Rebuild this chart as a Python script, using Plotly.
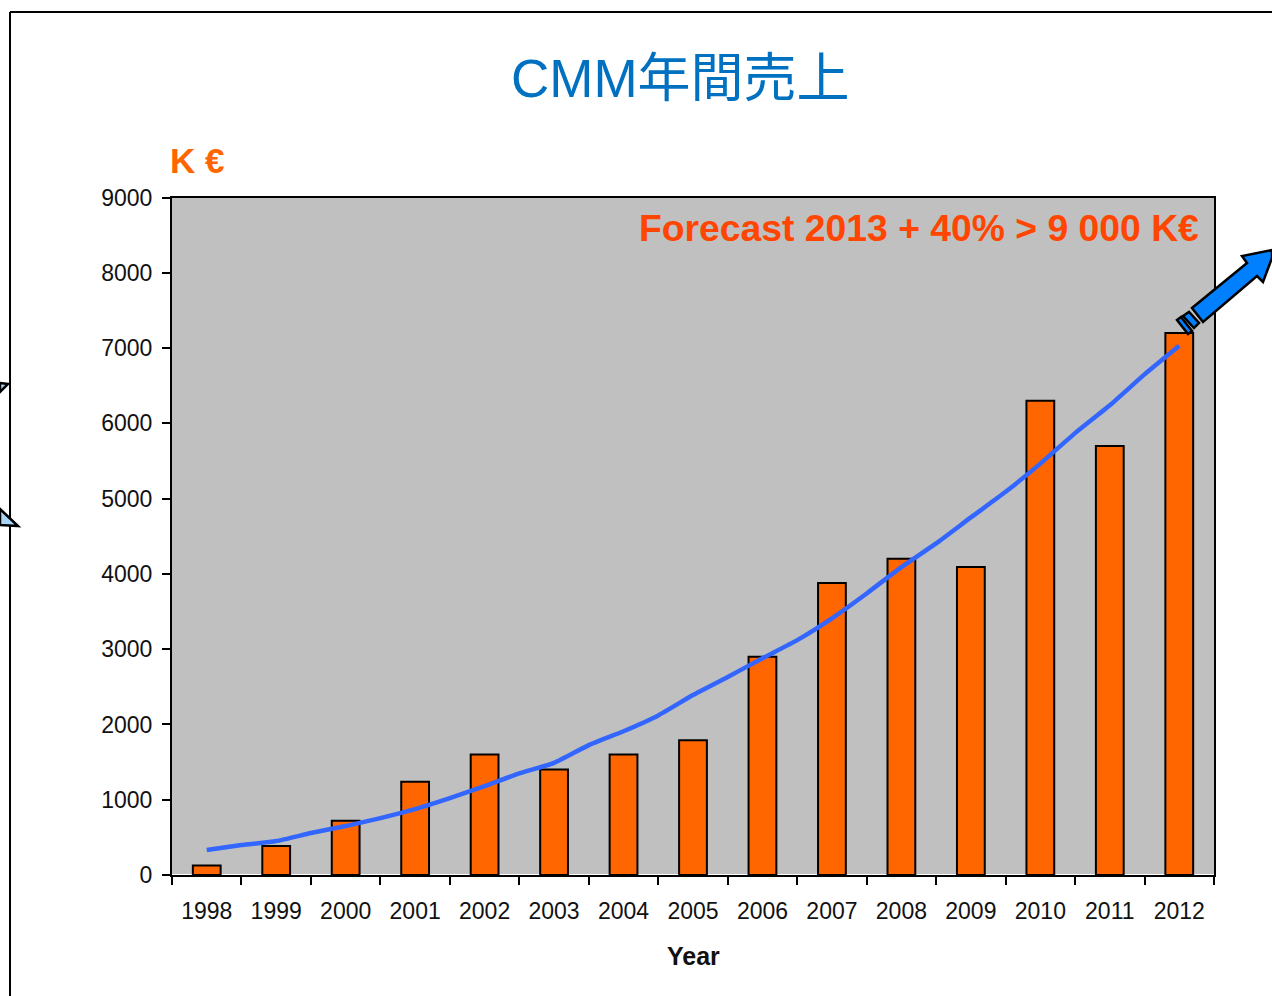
import plotly.graph_objects as go

years = ["1998","1999","2000","2001","2002","2003","2004","2005","2006","2007","2008","2009","2010","2011","2012"]
sales = [125,385,720,1240,1600,1400,1600,1790,2900,3880,4200,4090,6300,5700,7200]
trend_years = [1998,1998.5,1999,1999.5,2000,2000.5,2001,2001.5,2002,2002.5,2003,2003.5,2004,2004.5,2005,
               2005.5,2006,2006.5,2007,2007.5,2008,2008.5,2009,2009.5,2010,2010.5,2011,2011.5,2012]
trend = [332,398,451,557,650,756,875,1020,1180,1350,1490,1725,1910,2120,2390,
         2630,2880,3120,3410,3740,4090,4405,4750,5090,5465,5870,6240,6650,7030]
y_ticks = [0,1000,2000,3000,4000,5000,6000,7000,8000,9000]

W, H = 1272, 996
FONT = "Liberation Sans, Arial, sans-serif"

def px(x): return x / W
def py(y): return 1 - y / H
def poly(pts):
    return "M " + " L ".join(f"{px(x):.5f},{py(y):.5f}" for x, y in pts) + " Z"

fig = go.Figure()
fig.add_bar(x=years, y=sales, width=0.40,
            marker=dict(color="#FF6600", line=dict(color="black", width=2)))
fig.add_scatter(x=trend_years, y=trend, mode="lines", xaxis="x2",
                line=dict(color="#3366FF", width=4.5, shape="spline", smoothing=0.5))

shapes = [
    dict(type="line", xref="paper", yref="paper", x0=px(10), y0=py(12), x1=px(10), y1=0,
         line=dict(color="black", width=2)),
    dict(type="line", xref="paper", yref="paper", x0=px(10), y0=py(12), x1=1, y1=py(12),
         line=dict(color="black", width=2)),
]
for pts, col in [
    ([(1192,308),(1203,322),(1257,276),(1263,282),(1272,258),(1272,250),(1242,256),(1247,263)], "#0080FF"),
    ([(1183,316),(1189,312),(1199,323),(1194,328)], "#0080FF"),
    ([(1177,320),(1181,317),(1192,331),(1188,334)], "#0080FF"),
    ([(0,383),(8,384),(0,392)], "#A8D4F8"),
    ([(0,509),(18,526),(0,525)], "#A8D4F8"),
]:
    shapes.append(dict(type="path", xref="paper", yref="paper", path=poly(pts),
                       fillcolor=col, line=dict(color="black", width=2.5)))

annotations = [
    dict(text='CMM<span style="font-family:\'Noto Sans CJK JP\'">年間売上</span>', x=px(680), y=py(74), xref="paper", yref="paper",
         showarrow=False, xanchor="center", yanchor="middle",
         font=dict(family=FONT, size=53, color="#0070C0")),
    dict(text="<b>K €</b>", x=px(168), y=py(160), xref="paper", yref="paper",
         showarrow=False, xanchor="left", yanchor="middle",
         font=dict(family=FONT, size=35, color="#FF6600")),
    dict(text="<b>Forecast 2013 + 40% > 9 000 K€</b>", x=px(1201), y=py(228), xref="paper", yref="paper",
         showarrow=False, xanchor="right", yanchor="middle",
         font=dict(family=FONT, size=37.3, color="#FF4500")),
    dict(text="<b>Year</b>", x=px(693), y=py(956), xref="paper", yref="paper",
         showarrow=False, xanchor="center", yanchor="middle",
         font=dict(family=FONT, size=25, color="#111111")),
]

dom_x = [px(172), px(1214)]
fig.update_layout(
    width=W, height=H, autosize=False,
    margin=dict(l=0, r=0, t=0, b=0),
    paper_bgcolor="white", plot_bgcolor="#C0C0C0",
    showlegend=False, shapes=shapes, annotations=annotations,
    xaxis=dict(domain=dom_x, type="category", tickson="boundaries", automargin=False,
               ticks="outside", ticklen=8, tickwidth=2, tickcolor="black", ticklabelstandoff=14,
               showline=True, linecolor="black", linewidth=2, mirror=True, showgrid=False,
               tickfont=dict(family=FONT, size=23, color="#111111")),
    xaxis2=dict(domain=dom_x, overlaying="x", range=[1997.5, 2012.5], visible=False),
    yaxis=dict(domain=[py(875), py(197.5)], range=[0, 9000], tickvals=y_ticks, automargin=False,
               ticks="outside", ticklen=8, tickwidth=2, tickcolor="black", ticklabelstandoff=5,
               showline=True, linecolor="black", linewidth=2, mirror=True, showgrid=False,
               tickfont=dict(family=FONT, size=23, color="#111111")),
)
fig.write_html("out.html", config=dict(displayModeBar=False),
               post_script="document.body.style.margin='0';document.documentElement.style.overflow='hidden';")
